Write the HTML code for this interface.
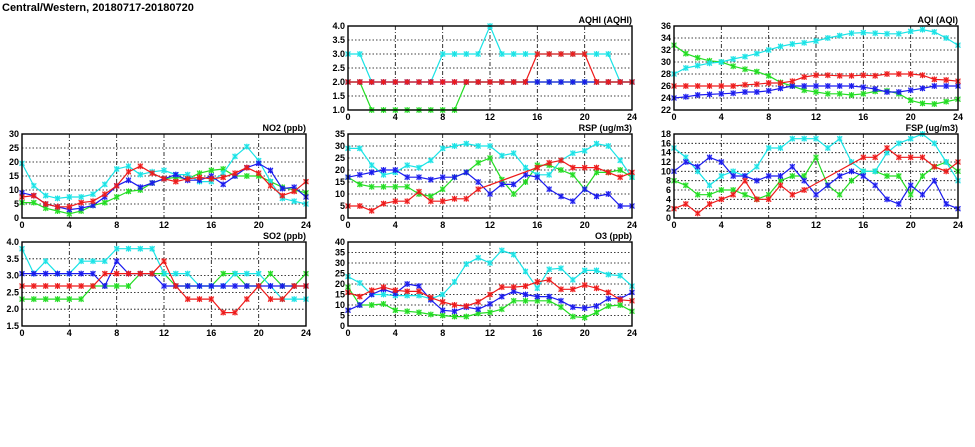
<!DOCTYPE html>
<html><head><meta charset="utf-8"><style>
html,body{margin:0;padding:0;background:#fff;width:975px;height:447px;overflow:hidden}
svg{display:block}
text{font-family:"Liberation Sans",sans-serif;font-weight:bold;font-size:9px;fill:#000}
</style></head><body>
<svg id="s" width="975" height="447" xmlns="http://www.w3.org/2000/svg">
<text x="2" y="11" style="font-size:11px">Central/Western, 20180717-20180720</text>
</svg>
<script>
const S=document.getElementById('s');
const C={c:'#19e3e6',g:'#22dd22',b:'#1a1aee',r:'#ee1a1a'};
const N=null;
const P=[
{t:'AQHI (AQHI)',x:348,y:26,min:1,max:4,step:0.5,fmt:v=>v.toFixed(1),d:{
g:[2,2,1,1,1,1,1,1,1,1,2,2,2,2,2,2,2,2,2,2,2,2,2,2,2],
c:[3,3,2,2,2,2,2,2,3,3,3,3,4,3,3,3,3,3,3,3,3,3,3,2,2],
b:[2,2,2,2,2,2,2,2,2,2,2,2,2,2,2,2,2,2,2,2,2,2,2,2,2],
r:[2,2,2,2,2,2,2,2,2,2,2,2,2,2,2,2,3,3,3,3,3,2,2,2,2]}},
{t:'AQI (AQI)',x:674,y:26,min:22,max:36,step:2,fmt:v=>v,d:{
c:[28,29,29.4,29.8,30,30.5,30.9,31.4,32,32.6,33,33.2,33.5,34,34.4,34.8,34.9,34.8,34.7,34.7,35.1,35.4,35,34,32.8],
g:[32.8,31.4,30.7,30.2,30,29.3,28.8,28.4,27.7,26.6,26,25.3,25,24.7,24.7,24.5,24.7,25.1,25.2,24.7,23.6,23.1,23,23.4,23.8],
r:[26,26,26,26,26,26,26.2,26.3,26.5,26.5,26.8,27.5,27.8,27.8,27.7,27.7,27.8,27.7,28,28,28,27.8,27.1,27,26.8],
b:[24,24.2,24.5,24.6,24.7,24.8,25,25,25.2,25.6,26,26,26,26,26,26,25.8,25.5,25,25,25.3,25.6,26,26,26]}},
{t:'NO2 (ppb)',x:22,y:134,min:0,max:30,step:5,fmt:v=>v,d:{
c:[19.5,11.5,8,7,7.5,7.5,8.5,12,17.5,18.5,15.5,16.5,17,15.5,15.5,13,13,16,22,25.5,20.5,13,7,6,5],
g:[5.5,5.5,3.5,2.5,1.5,2.5,4.5,5.5,7.5,9.5,10,12.5,14,14.5,14,16,17,17.5,15,15,15,13,11,10,9],
b:[9,8,5,4,3,3.5,4.5,7.5,11.5,13.5,11,12.5,14,15.5,13.5,13.5,15,12,15,18,19.5,17,10.5,11,7.5],
r:[7.5,8,5,4,4,5.5,6,8.5,11.5,16.5,18.5,16,14,13,14,14.5,14,14.5,16,18,16,11.5,8,9.5,13]}},
{t:'RSP (ug/m3)',x:348,y:134,min:0,max:35,step:5,fmt:v=>v,d:{
c:[29,29,22,18,19,22,21,24,29,30,31,30,30,26,27,21,18,18,24,27,28,31,30,24,17],
g:[17,14,13,13,13,13,10,9,12,17,19,23,25,16,10,15,22,22,20,18,12,19,19,20,17],
b:[17,18,19,20,20,17,17,16,17,17,19,15,10,14,14,18,17,12,9,7,12,9,10,5,5],
r:[5,5,3,6,7,7,11,7,7,8,8,12,N,N,N,N,21,23,24,21,21,21,19,17,19]}},
{t:'FSP (ug/m3)',x:674,y:134,min:0,max:18,step:2,fmt:v=>v,d:{
c:[15,13,10,7,9,10,9,11,15,15,17,17,17,15,17,12,10,10,14,16,17,18,16,12,8],
g:[8,7,5,5,6,6,5,4,5,8,9,9,13,7,5,8,10,10,9,9,5,9,11,12,10],
b:[10,12,11,13,12,9,9,8,9,9,11,8,5,7,9,10,9,7,4,3,7,5,8,3,2],
r:[2,3,1,3,4,5,8,4,4,7,5,6,N,N,N,N,13,13,15,13,13,13,11,10,12]}},
{t:'SO2 (ppb)',x:22,y:242,min:1.5,max:4,step:0.5,fmt:v=>v.toFixed(1),d:{
c:[3.8,3.06,3.43,3.06,3.06,3.43,3.43,3.43,3.8,3.8,3.8,3.8,3.06,3.06,3.06,2.69,2.69,2.69,3.06,3.06,3.06,2.69,2.3,2.3,2.3],
g:[2.3,2.3,2.3,2.3,2.3,2.3,2.69,2.69,2.69,2.69,3.06,3.06,3.06,2.69,2.69,2.69,2.69,3.06,3.06,2.69,2.69,3.06,2.69,2.69,3.06],
b:[3.06,3.06,3.06,3.06,3.06,3.06,3.06,2.69,3.43,3.06,3.06,3.06,2.69,2.69,2.69,2.69,2.69,2.69,2.69,2.69,2.69,2.69,2.69,2.69,2.69],
r:[2.69,2.69,2.69,2.69,2.69,2.69,2.69,3.06,3.06,3.06,3.06,3.06,3.43,2.69,2.3,2.3,2.3,1.9,1.9,2.3,2.69,2.3,2.3,2.69,2.69]}},
{t:'O3 (ppb)',x:348,y:242,min:0,max:40,step:5,fmt:v=>v,d:{
c:[23.5,20.5,15,15,14.5,14.5,14.5,13,15,21,29.5,32.5,30,36,34,26,18,27,27.5,22,26.5,26.5,24.5,24,19],
g:[18.5,10,10,10.5,7.5,7,6.5,5.5,5,4.5,4.5,6,6.5,8,12,12,12,12,9,4.5,4,6.5,9.5,10,7],
b:[7.5,10,15,17.5,15.5,20,19,12.5,7.5,7,9,8,10.5,14,16.5,15,14,14,12,9,8.5,9.5,13,13,16],
r:[16,14,17,18.5,17,16.5,16.5,13.5,11.5,10,9.5,11.5,15,18.5,18.5,19,21,22,17.5,17.5,19.5,18,16,12.5,12]}}
];
const W=284,H=84;let h='';
for(const p of P){
 const X=i=>p.x+i*W/24, Y=v=>p.y+H-(v-p.min)/(p.max-p.min)*H;
 // grid
 for(let v=p.min+p.step;v<p.max-1e-6;v+=p.step){const y=Y(v).toFixed(1);
  h+=`<line x1="${p.x}" x2="${p.x+W}" y1="${y}" y2="${y}" stroke="#000" stroke-width="0.8" stroke-dasharray="1.5,2"/>`;}
 for(let i=4;i<24;i+=4){const x=X(i).toFixed(1);
  h+=`<line x1="${x}" x2="${x}" y1="${p.y}" y2="${p.y+H}" stroke="#000" stroke-width="0.8" stroke-dasharray="4,2,1,2"/>`;}
 // ticks labels
 for(let v=p.min;v<=p.max+1e-6;v+=p.step){h+=`<text x="${p.x-3}" y="${(Y(v)+3).toFixed(1)}" text-anchor="end">${p.fmt(Math.round(v*10)/10)}</text>`;}
 for(let i=0;i<=24;i+=4){h+=`<text x="${X(i).toFixed(1)}" y="${p.y+H+10}" text-anchor="middle">${i}</text>`;}
 h+=`<text x="${p.x+W}" y="${p.y-3}" text-anchor="end">${p.t}</text>`;
 for(const k of ['g','c','b','r']){const a=p.d[k];if(!a)continue;const col=C[k];
  const pts=a.map((v,i)=>v==null?null:[X(i),Y(v)]).filter(Boolean);
  h+=`<polyline fill="none" stroke="${col}" stroke-width="1.2" points="${pts.map(q=>q[0].toFixed(1)+','+q[1].toFixed(1)).join(' ')}"/>`;
  for(const [x,y] of pts){
   h+=`<rect x="${(x-2.5).toFixed(1)}" y="${(y-2.5).toFixed(1)}" width="5" height="5" fill="${col}" fill-opacity="0.45"/>`;
   h+=`<path d="M${x-2.5},${y-2.5}L${x+2.5},${y+2.5}M${x-2.5},${y+2.5}L${x+2.5},${y-2.5}M${x},${y-3}V${y+3}" stroke="${col}" stroke-width="1"/>`;}
 }
 h+=`<rect x="${p.x}" y="${p.y}" width="${W}" height="${H}" fill="none" stroke="#000" stroke-width="1.4"/>`;
}
S.insertAdjacentHTML('beforeend',h);
</script>
</body></html>
